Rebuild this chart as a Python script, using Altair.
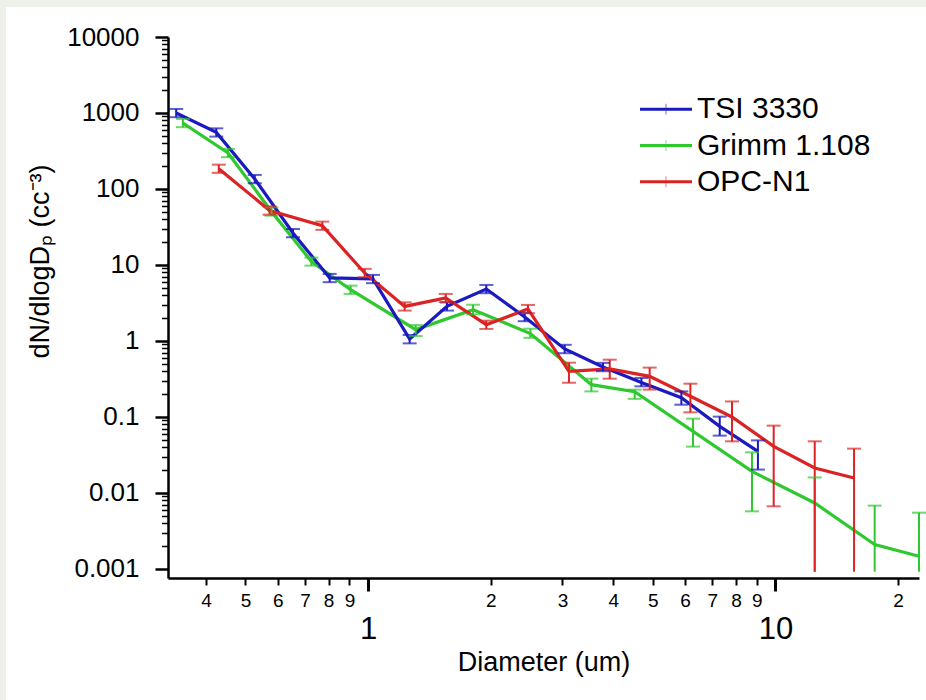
import altair as alt
import pandas as pd

series_names = ["TSI 3330", "Grimm 1.108", "OPC-N1"]
series_colors = ["#1a1ac0", "#2fc82f", "#dc2323"]

# TSI 3330
tsi_d = [0.338, 0.424, 0.527, 0.654, 0.805, 1.028, 1.265, 1.562, 1.951, 2.424, 3.039, 3.774, 4.688, 5.877, 7.30, 9.06]
tsi_n = [1000, 556, 135, 26.4, 6.75, 6.55, 1.06, 2.85, 4.83, 2.07, 0.785, 0.455, 0.285, 0.179, 0.0752, 0.0352]
tsi_lo = [880, 489, 119, 23.2, 5.94, 5.76, 0.93, 2.51, 4.25, 1.82, 0.69, 0.40, 0.253, 0.145, 0.0568, 0.0203]
tsi_hi = [1130, 628, 153, 29.8, 7.63, 7.40, 1.20, 3.22, 5.46, 2.34, 0.89, 0.515, 0.326, 0.217, 0.101, 0.0492]

# Grimm 1.108
grimm_d = [0.351, 0.453, 0.579, 0.726, 0.906, 1.309, 1.810, 2.503, 3.534, 4.514, 6.278, 8.762, 12.49, 17.53, 22.52]
grimm_n = [738, 298, 50.7, 11.1, 4.73, 1.41, 2.58, 1.25, 0.266, 0.215, 0.0647, 0.0192, 0.00738, 0.00209, 0.00147]
grimm_lo = [650, 262, 44.6, 9.8, 4.16, 1.16, 2.24, 1.10, 0.217, 0.173, 0.0407, 0.00573, 0.00092, 0.00092, 0.00092]
grimm_hi = [835, 337, 57.3, 12.5, 5.35, 1.62, 3.00, 1.45, 0.319, 0.229, 0.095, 0.0342, 0.0160, 0.00681, 0.0055]

# OPC-N1
opc_d = [0.430, 0.573, 0.772, 0.981, 1.230, 1.551, 1.951, 2.469, 3.113, 3.920, 4.913, 6.184, 7.824, 9.904, 12.49, 15.60]
opc_n = [185, 52.2, 32.9, 7.85, 2.85, 3.68, 1.64, 2.64, 0.398, 0.428, 0.342, 0.187, 0.100, 0.0411, 0.0213, 0.0157]
opc_lo = [163, 45.9, 29.0, 6.9, 2.51, 3.24, 1.44, 2.32, 0.282, 0.319, 0.229, 0.115, 0.0478, 0.00667, 0.00092, 0.00092]
opc_hi = [209, 59.0, 37.2, 8.9, 3.22, 4.16, 1.85, 2.98, 0.518, 0.567, 0.446, 0.274, 0.160, 0.0769, 0.0478, 0.0383]

x_tick_values = [0.4, 0.5, 0.6, 0.7, 0.8, 0.9, 1, 2, 3, 4, 5, 6, 7, 8, 9, 10, 20]
y_major = [0.001, 0.01, 0.1, 1, 10, 100, 1000, 10000]
y_minor_digits = [2, 3, 4, 5, 6, 7, 8, 9]

FONT = "Liberation Sans"

rows = []
for name, ds, ns, los, his in [
    ("Grimm 1.108", grimm_d, grimm_n, grimm_lo, grimm_hi),
    ("TSI 3330", tsi_d, tsi_n, tsi_lo, tsi_hi),
    ("OPC-N1", opc_d, opc_n, opc_lo, opc_hi),
]:
    for d, n, lo, hi in zip(ds, ns, los, his):
        rows.append({"series": name, "d": d, "n": n, "lo": lo, "hi": hi})
df = pd.DataFrame(rows)

y_values = list(y_major)
for m in y_major[:-1]:
    for k in y_minor_digits:
        y_values.append(round(m * k, 6))
y_values = sorted(y_values)

xmajor = "datum.value == 1 || datum.value == 10"
ymajor = "abs(log(datum.value)/LN10 - round(log(datum.value)/LN10)) < 0.001"

xscale = alt.Scale(type="log", domain=[0.3227, 22.52], nice=False)
yscale = alt.Scale(type="log", domain=[0.00076, 10000], nice=False)

xaxis = alt.Axis(
    values=x_tick_values,
    labelExpr="datum.value == 1 ? '1' : datum.value == 10 ? '10' : datum.value < 1 ? format(datum.value*10, '.0f') : datum.value < 10 ? format(datum.value, '.0f') : format(datum.value/10, '.0f')",
    labelFontSize={"condition": {"test": xmajor, "value": 31}, "value": 19},
    labelPadding={"condition": {"test": xmajor, "value": 23}, "value": 6},
    tickSize={"condition": {"test": xmajor, "value": 13}, "value": 7},
    tickWidth={"condition": {"test": xmajor, "value": 3}, "value": 2},
    tickColor="black",
    labelColor="black",
    labelFont=FONT,
    labelOverlap=False,
    labelFlush=False,
    labelBound=False,
    domainColor="black",
    domainWidth=2.5,
    grid=False,
    zindex=1,
    title="Diameter (um)",
    titleFont=FONT,
    titleFontSize=27,
    titleFontWeight="normal",
    titleColor="black",
    titleBaseline="middle",
    titleY=84,
)

yaxis = alt.Axis(
    values=y_values,
    labelExpr=ymajor + " ? (datum.value >= 1 ? format(datum.value, 'd') : format(datum.value, '.3~f')) : ''",
    labelFontSize=26,
    labelPadding=16,
    tickSize={"condition": {"test": ymajor, "value": 13}, "value": 6.5},
    tickWidth={"condition": {"test": ymajor, "value": 2.5}, "value": 1.5},
    tickColor="black",
    labelColor="black",
    labelFont=FONT,
    labelOverlap=False,
    labelFlush=False,
    labelBound=False,
    domainColor="black",
    domainWidth=2.5,
    grid=False,
    zindex=1,
    title="dN/dlogDₚ (cc⁻³)",
    titleFont=FONT,
    titleFontSize=27,
    titleFontWeight="normal",
    titleColor="black",
    titleAngle=270,
    titleAlign="center",
    titleBaseline="middle",
    titleX=-128,
    titleY=224,
)

color = alt.Color("series:N", scale=alt.Scale(domain=series_names, range=series_colors), legend=None)

base = alt.Chart(df)

lines = base.mark_line(strokeWidth=3.2).encode(
    x=alt.X("d:Q", scale=xscale, axis=xaxis),
    y=alt.Y("n:Q", scale=yscale, axis=yaxis),
    color=color,
    order="d:Q",
)

bars = base.mark_rule(strokeWidth=2).encode(
    x=alt.X("d:Q", scale=xscale),
    y=alt.Y("lo:Q", scale=yscale),
    y2="hi:Q",
    color=color,
)

caps_hi = base.mark_tick(orient="horizontal", size=14, thickness=2).encode(
    x=alt.X("d:Q", scale=xscale),
    y=alt.Y("hi:Q", scale=yscale),
    color=color,
)

caps_lo = base.transform_filter("datum.lo > 0.001").mark_tick(orient="horizontal", size=14, thickness=2).encode(
    x=alt.X("d:Q", scale=xscale),
    y=alt.Y("lo:Q", scale=yscale),
    color=color,
)

bg = alt.Chart(pd.DataFrame({"k": [0]})).mark_rect(color="white").encode(
    x=alt.value(-162), x2=alt.value(758), y=alt.value(-30), y2=alt.value(663)
)

main = alt.layer(lines, bars, caps_hi, caps_lo)

leg_df = pd.DataFrame({"series": series_names})
leg_y = alt.Y("series:N", scale=alt.Scale(type="point", domain=series_names, range=[72.3, 144.7], padding=0), axis=None)
leg_color = alt.Color("series:N", scale=alt.Scale(domain=series_names, range=series_colors), legend=None)

leg_line = alt.Chart(leg_df).mark_rule(strokeWidth=3).encode(
    x=alt.value(472), x2=alt.value(524), y=leg_y, color=leg_color
)
leg_tick = alt.Chart(leg_df).mark_tick(orient="vertical", size=11, thickness=1, opacity=0.6).encode(
    x=alt.value(498), y=leg_y, color=leg_color
)
leg_text = alt.Chart(leg_df).mark_text(align="left", baseline="middle", fontSize=30, font=FONT, color="black").encode(
    x=alt.value(529), y=leg_y, text="series:N"
)
legend = alt.layer(leg_line, leg_tick, leg_text)

chart = alt.layer(bg, main, legend).resolve_scale(y="independent", color="independent").properties(
    width=751,
    height=541,
    autosize=alt.AutoSizeParams(type="none"),
    padding={"left": 168, "top": 37, "right": 7, "bottom": 122},
    background="#eef1e9",
).configure_view(stroke="transparent")

chart.save("out.html", embed_options={"renderer": "svg", "actions": False})
